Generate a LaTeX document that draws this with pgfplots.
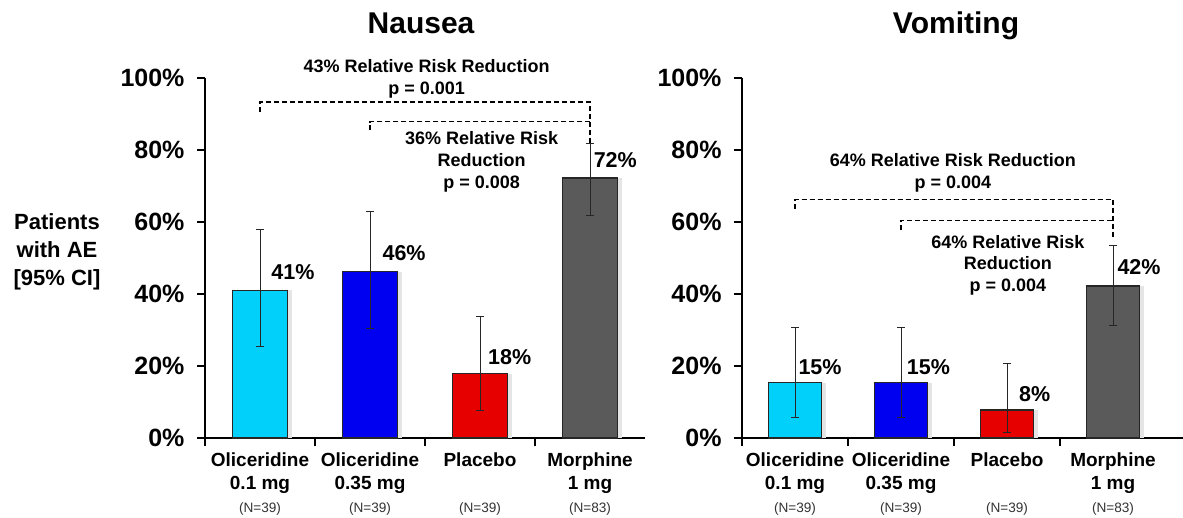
\documentclass[border=0pt]{standalone}
\usepackage{fontspec}
\setmainfont{Liberation Sans}
\usepackage{pgfplots}
\pgfplotsset{compat=1.18}
\definecolor{cyb}{RGB}{0,208,250}
\definecolor{blb}{RGB}{0,0,240}
\definecolor{rdb}{RGB}{230,0,0}
\definecolor{grb}{RGB}{90,90,90}
\newcommand\nfont{\fontsize{13.6bp}{23bp}\selectfont\mdseries\color{black!80}}
\newcommand\vfont{\fontsize{21.5bp}{24bp}\selectfont\bfseries}
\newcommand\afont{\fontsize{18bp}{21.7bp}\selectfont\bfseries}
\begin{document}
\begin{tikzpicture}
\pgfplotsset{
  common/.style={
    scale only axis, height=360bp, ymin=0, ymax=100, xmin=-0.5,
    axis x line*=bottom, axis y line*=left,
    axis line style={line width=1.5bp, black},
    ytick={0,20,40,60,80,100},
    yticklabels={0\%,20\%,40\%,60\%,80\%,100\%},
    yticklabel style={font=\fontsize{25bp}{28bp}\selectfont\bfseries, xshift=-9bp},
    tick align=outside, major tick length=8bp,
    tick style={line width=1.3bp, black},
    xtick={-0.5,0.5,1.5,2.5}, xticklabels={},
    extra x ticks={0,1,2,3},
    extra x tick labels={{Oliceridine\\0.1 mg\\{\nfont (N=39)}},{Oliceridine\\0.35 mg\\{\nfont (N=39)}},{Placebo\\\mbox{}\\{\nfont (N=39)}},{Morphine\\1 mg\\{\nfont (N=83)}}},
    extra x tick style={major tick length=0pt,
      tick label style={align=center, anchor=north, inner sep=0pt, yshift=-15bp,
        font=\fontsize{19bp}{23bp}\selectfont\bfseries}},
    clip=false, ybar, bar width=0.5,
    error bars/y dir=both, error bars/y explicit,
    error bars/error mark=-,
    error bars/error bar style={line width=1bp, black!85},
    error bars/error mark options={rotate=90, line width=1bp, black!85, mark size=4bp},
  },
  barst/.style={bar shift=0pt, draw=black!85, line width=1.6bp, fill=#1,
    preaction={draw=none, fill=black!10, transform canvas={xshift=4bp}}},
}
% ---------------- Nausea ----------------
\begin{axis}[common, width=440bp, xmax=3.5, at={(205bp,80bp)}, anchor=south west]
\addplot[barst=cyb] coordinates {(0,41.0) += (0,17.0) -= (0,15.5)};
\addplot[barst=blb] coordinates {(1,46.2) += (0,16.6) -= (0,15.9)};
\addplot[barst=rdb] coordinates {(2,17.9) += (0,15.8) -= (0,10.4)};
\addplot[barst=grb] coordinates {(3,72.3) += (0,9.5) -= (0,10.6)};
\node[font=\vfont] at (axis cs:0.30,46.1) {41\%};
\node[font=\vfont] at (axis cs:1.31,51.4) {46\%};
\node[font=\vfont] at (axis cs:2.27,22.5) {18\%};
\node[font=\vfont] at (axis cs:3.23,77.2) {72\%};
\draw[dash pattern=on 5bp off 3bp, line width=1.3bp] (axis cs:0,90.6) -- (axis cs:0,93.3) -- (axis cs:3,93.3) -- (axis cs:3,81);
\draw[dash pattern=on 5bp off 3bp, line width=1.3bp] (axis cs:1,85.5) -- (axis cs:1,87.9) -- (axis cs:3,87.9);
\node[font=\afont, align=center] at (axis cs:1.515,99.7) {43\% Relative Risk Reduction\\p = 0.001};
\node[font=\afont, align=center] at (axis cs:2.015,76.75) {36\% Relative Risk\\Reduction\\p = 0.008};
\node[font=\fontsize{30bp}{34bp}\selectfont\bfseries, anchor=base] at (axis cs:1.464,100) [yshift=44.7bp] {Nausea};
\end{axis}
% ---------------- Vomiting ----------------
\begin{axis}[common, width=441bp, xmax=3.66, at={(742bp,80bp)}, anchor=south west]
\addplot[barst=cyb] coordinates {(0,15.4) += (0,15.2) -= (0,9.7)};
\addplot[barst=blb] coordinates {(1,15.4) += (0,15.2) -= (0,9.7)};
\addplot[barst=rdb] coordinates {(2,7.7) += (0,13.1) -= (0,6.2)};
\addplot[barst=grb] coordinates {(3,42.2) += (0,11.3) -= (0,10.9)};
\node[font=\vfont] at (axis cs:0.236,19.7) {15\%};
\node[font=\vfont] at (axis cs:1.258,19.7) {15\%};
\node[font=\vfont] at (axis cs:2.261,12.1) {8\%};
\node[font=\vfont] at (axis cs:3.245,47.5) {42\%};
\draw[dash pattern=on 5bp off 3bp, line width=1.3bp] (axis cs:0,63.7) -- (axis cs:0,66.3) -- (axis cs:3,66.3) -- (axis cs:3,55.8);
\draw[dash pattern=on 5bp off 3bp, line width=1.3bp] (axis cs:1,57.7) -- (axis cs:1,60.5) -- (axis cs:3,60.5);
\node[font=\afont, align=center] at (axis cs:1.49,73.7) {64\% Relative Risk Reduction\\p = 0.004};
\node[font=\afont, align=center] at (axis cs:2.009,48.0) {64\% Relative Risk\\Reduction\\p = 0.004};
\node[font=\fontsize{30bp}{34bp}\selectfont\bfseries, anchor=base] at (axis cs:1.519,100) [yshift=44.7bp] {Vomiting};
\end{axis}
\node[font=\fontsize{22bp}{28bp}\selectfont\bfseries, align=center] at (57bp,266bp) {Patients\\with AE\\{}[95\% CI]};
\pgfresetboundingbox
\path[use as bounding box] (0,0) rectangle (1183bp,518bp);
\end{tikzpicture}
\end{document}
